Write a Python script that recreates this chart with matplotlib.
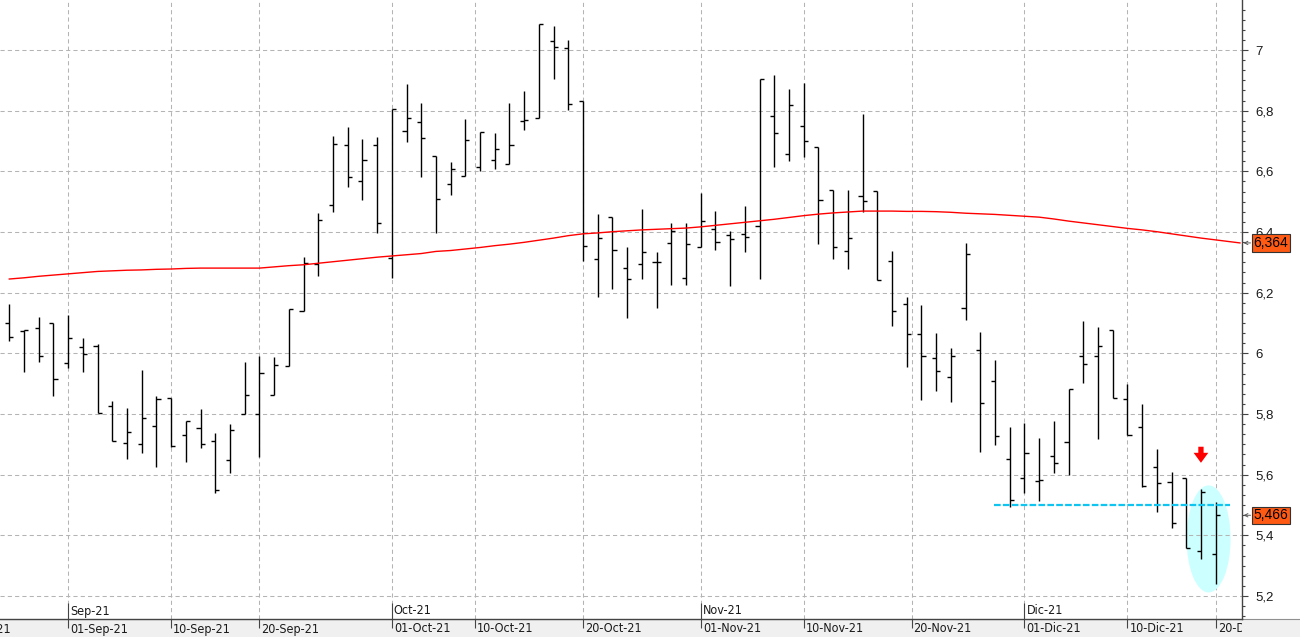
import matplotlib
matplotlib.use('Agg')
import matplotlib.pyplot as plt
import matplotlib.transforms as mtransforms
from matplotlib.patches import Ellipse, Rectangle
from matplotlib.lines import Line2D
from matplotlib.ticker import MultipleLocator
import numpy as np
import pandas as pd

# trading days shown (one bar each)
days = pd.bdate_range('2021-08-26', '2021-12-20')

opens = [6.099, 6.074, 6.082, 6.099, 5.967, 6.020, 6.024, 5.825, 5.703, 5.700,
         5.760, 5.854, 5.730, 5.753, 5.710, 5.647, 5.799, 5.799, 5.862, 5.957,
         6.138, 6.293, 6.488, 6.687, 6.568, 6.687, 6.313, 6.732, 6.762, 6.650,
         6.558, 6.586, 6.613, 6.636, 6.625, 6.765, 6.775, 7.029, 7.006, 6.832,
         6.310, 6.448, 6.280, 6.293, 6.301, 6.363, 6.247, 6.350, 6.409, 6.389,
         6.392, 6.420, 6.781, 6.656, 6.748, 6.679, 6.538, 6.336, 6.518, 6.534,
         6.304, 6.162, 6.063, 5.983, 5.921, 6.149, 6.010, 5.909, 5.650, 5.588,
         5.578, 5.660, 5.707, 5.990, 5.990, 6.076, 5.848, 5.756, 5.624, 5.575,
         5.588, 5.347, 5.337]
highs = [6.163, 6.077, 6.120, 6.099, 6.126, 6.049, 6.030, 5.842, 5.820, 5.945,
         5.858, 5.854, 5.778, 5.816, 5.736, 5.767, 5.971, 5.991, 5.987, 6.145,
         6.319, 6.462, 6.716, 6.746, 6.707, 6.713, 6.804, 6.888, 6.824, 6.650,
         6.631, 6.773, 6.730, 6.726, 6.825, 6.865, 7.085, 7.079, 7.033, 6.832,
         6.459, 6.448, 6.350, 6.475, 6.333, 6.430, 6.430, 6.529, 6.469, 6.402,
         6.486, 6.905, 6.918, 6.871, 6.891, 6.679, 6.538, 6.538, 6.789, 6.534,
         6.337, 6.185, 6.159, 6.067, 6.016, 6.364, 6.069, 5.977, 5.757, 5.769,
         5.720, 5.776, 5.881, 6.106, 6.086, 6.076, 5.898, 5.832, 5.683, 5.608,
         5.588, 5.552, 5.509]
lows = [6.042, 5.939, 5.972, 5.860, 5.953, 5.939, 5.802, 5.712, 5.651, 5.672,
        5.626, 5.692, 5.643, 5.689, 5.538, 5.606, 5.799, 5.659, 5.862, 5.957,
        6.138, 6.256, 6.467, 6.549, 6.506, 6.398, 6.249, 6.698, 6.582, 6.398,
        6.523, 6.586, 6.602, 6.609, 6.625, 6.737, 6.775, 6.905, 6.803, 6.305,
        6.187, 6.213, 6.117, 6.246, 6.150, 6.226, 6.226, 6.350, 6.342, 6.223,
        6.335, 6.246, 6.615, 6.635, 6.648, 6.361, 6.312, 6.279, 6.465, 6.241,
        6.091, 5.956, 5.847, 5.877, 5.841, 6.109, 5.674, 5.699, 5.492, 5.541,
        5.514, 5.606, 5.600, 5.903, 5.718, 5.852, 5.730, 5.559, 5.478, 5.423,
        5.357, 5.321, 5.240]
closes = [6.053, 6.077, 5.992, 5.914, 6.049, 5.997, 5.802, 5.712, 5.740, 5.786,
          5.848, 5.694, 5.776, 5.700, 5.548, 5.746, 5.862, 5.934, 5.960, 6.145,
          6.297, 6.440, 6.689, 6.580, 6.636, 6.429, 6.804, 6.775, 6.710, 6.508,
          6.607, 6.702, 6.730, 6.673, 6.686, 6.769, 7.085, 7.009, 6.823, 6.353,
          6.379, 6.340, 6.244, 6.333, 6.301, 6.404, 6.359, 6.436, 6.366, 6.376,
          6.382, 6.903, 6.725, 6.819, 6.699, 6.504, 6.350, 6.379, 6.501, 6.241,
          6.138, 6.063, 5.990, 5.941, 5.990, 6.326, 5.835, 5.726, 5.515, 5.670,
          5.581, 5.637, 5.881, 5.964, 6.023, 5.852, 5.730, 5.562, 5.571, 5.440,
          5.357, 5.542, 5.466]
ma = [6.245, 6.249, 6.254, 6.258, 6.262, 6.266, 6.270, 6.272, 6.274, 6.275,
      6.277, 6.278, 6.280, 6.281, 6.281, 6.281, 6.281, 6.281, 6.285, 6.289,
      6.292, 6.297, 6.302, 6.307, 6.312, 6.317, 6.321, 6.325, 6.329, 6.336,
      6.339, 6.344, 6.349, 6.355, 6.360, 6.366, 6.373, 6.380, 6.388, 6.394,
      6.397, 6.401, 6.404, 6.407, 6.409, 6.411, 6.413, 6.417, 6.422, 6.427,
      6.432, 6.437, 6.442, 6.448, 6.454, 6.459, 6.463, 6.466, 6.469, 6.469,
      6.469, 6.468, 6.468, 6.467, 6.465, 6.462, 6.460, 6.458, 6.455, 6.452,
      6.449, 6.443, 6.436, 6.430, 6.424, 6.418, 6.412, 6.407, 6.401, 6.394,
      6.387, 6.380, 6.374]
ma_last = 6.364
last_close = 5.466
support = 5.50

tick_dates = ['2021-08-20', '2021-09-01', '2021-09-10', '2021-09-20', '2021-10-01',
              '2021-10-10', '2021-10-20', '2021-11-01', '2021-11-10', '2021-11-20',
              '2021-12-01', '2021-12-10', '2021-12-20']
tick_labels = ['20-Aug-21', '01-Sep-21', '10-Sep-21', '20-Sep-21', '01-Oct-21',
               '10-Oct-21', '20-Oct-21', '01-Nov-21', '10-Nov-21', '20-Nov-21',
               '01-Dic-21', '10-Dic-21', '20-Dic-21']
month_dates = ['2021-09-01', '2021-10-01', '2021-11-01', '2021-12-01']
month_labels = ['Sep-21', 'Oct-21', 'Nov-21', 'Dic-21']
y_ticks = [5.2, 5.4, 5.6, 5.8, 6.0, 6.2, 6.4, 6.6, 6.8, 7.0]

W, H = 1300, 637
AX_R, AX_B = 1242, 619   # plot area right edge / bottom edge in pixels

idx = np.arange(len(days))

# calendar position of dates on the trading-day axis
ext = pd.bdate_range('2021-08-16', '2021-12-31')
ext_pos = np.arange(len(ext)) - list(ext).index(days[0])
ext_num = ext.values.astype('datetime64[D]').astype(float)
def date_pos(ds):
    d = pd.to_datetime(ds).values.astype('datetime64[D]').astype(float)
    return np.interp(d, ext_num, ext_pos)

tick_pos = date_pos(tick_dates)
month_pos = date_pos(month_dates)

fig = plt.figure(figsize=(W / 100, H / 100), dpi=100)
fig.patch.set_facecolor('white')
fig.add_artist(Rectangle((0, 0), 1, (H - AX_B) / H, transform=fig.transFigure,
                         fc='#f0f0f0', ec='none', zorder=-5))
fig.add_artist(Line2D([0, 1], [(H - AX_B) / H] * 2, color='#909090', lw=0.8, zorder=-4))

ax = fig.add_axes([0, (H - AX_B) / H, AX_R / W, AX_B / H])
ax.set_xlim(-0.632, 83.79)
ax.set_ylim(5.124, 7.165)

for s in ['top', 'left']:
    ax.spines[s].set_visible(False)
ax.spines['right'].set_color('#444444')
ax.spines['bottom'].set_color('#444444')
ax.spines['right'].set_linewidth(1.0)
ax.spines['bottom'].set_linewidth(1.0)

# y axis on the right
ax.yaxis.tick_right()
ax.set_yticks(y_ticks)
ax.set_yticklabels([('%.1f' % v).replace('.0', '').replace('.', ',') for v in y_ticks])
ax.yaxis.set_minor_locator(MultipleLocator(0.2 / 6))
ax.tick_params(axis='y', which='major', length=4.5, width=0.8, color='#444444',
               pad=5, labelsize=9.5, labelcolor='#1a1a1a')
ax.tick_params(axis='y', which='minor', length=2.3, width=0.8, color='#444444')
for t in ax.get_yticklabels():
    t.set_fontfamily('Liberation Sans')
ax.set_xticks([])

grid_ls = (0, (4, 3))
ax.grid(axis='y', which='major', color='#b4b4b4', linestyle=grid_ls, lw=0.75)
ax.vlines(tick_pos, 5.124, 7.165, colors='#b4b4b4', linestyles=[grid_ls], lw=0.75, zorder=0.5)

# highlight ellipse around the last bars
ax.add_patch(Ellipse((81.52, 5.388), 2.99, 0.353, fc='#ccffff', ec='none', zorder=1))

# OHLC bars
tl = 0.28
ax.vlines(idx, lows, highs, colors='black', lw=1.0, zorder=3)
ax.hlines(opens, idx - tl, idx, colors='black', lw=1.0, zorder=3)
ax.hlines(closes, idx, idx + tl, colors='black', lw=1.0, zorder=3)

# moving average
ax.plot(np.append(idx, 83.65), np.append(ma, ma_last), color='#ff0000', lw=1.0, zorder=4)

# support line
ax.hlines(support, 66.9, 82.97, colors='#10c4f0', linestyles=[(0, (3, 1))], lw=1.6, zorder=5)

# red arrow
ax.arrow(81, 5.692, 0, -0.053, width=0.36, head_width=1.0, head_length=0.033,
         length_includes_head=True, fc='#ff0000', ec='none', zorder=6)

# bottom date axis
trans = mtransforms.blended_transform_factory(ax.transData, ax.transAxes)
lab_trans = mtransforms.offset_copy(trans, fig=fig, x=2, y=0, units='dots')
ax.vlines(tick_pos, -9 / AX_B, 0, transform=trans, colors='#444444', lw=0.8, clip_on=False)
ax.vlines(month_pos, 0, 16 / AX_B, transform=trans, colors='#444444', lw=0.8, clip_on=False)
for p, lab in zip(tick_pos, tick_labels):
    t = ax.text(p, -10 / AX_B, lab, transform=lab_trans, ha='left', va='center',
                fontsize=9, fontfamily='DejaVu Sans', fontstretch='condensed',
                color='#1a1a1a', zorder=8)
    t.set_clip_path(Rectangle((0, 0), AX_R / W, 1, transform=fig.transFigure))
    t.set_clip_on(True)
for p, lab in zip(month_pos, month_labels):
    ax.text(p, 8 / AX_B, lab, transform=lab_trans, ha='left', va='center',
            fontsize=9, fontfamily='DejaVu Sans', fontstretch='condensed',
            color='#1a1a1a', clip_on=False)

# last value markers on the right axis
rtrans = mtransforms.blended_transform_factory(ax.transAxes, ax.transData)
for val in [ma_last, last_close]:
    ax.text(1253.5 / AX_R, val, ('%.3f' % val).replace('.', ','), transform=rtrans,
            ha='left', va='center', fontsize=10, fontfamily='Liberation Sans', color='black',
            bbox=dict(boxstyle='square,pad=0.12', fc='#ff5a14', ec='#333333', lw=0.8),
            zorder=10, clip_on=False)
    ax.annotate('', xy=(1243.5 / AX_R, val), xytext=(1250.5 / AX_R, val), xycoords=rtrans,
                arrowprops=dict(arrowstyle='->', color='#555555', lw=0.7,
                                shrinkA=0, shrinkB=0, mutation_scale=6),
                annotation_clip=False)

fig.savefig('out.png', dpi=100)
